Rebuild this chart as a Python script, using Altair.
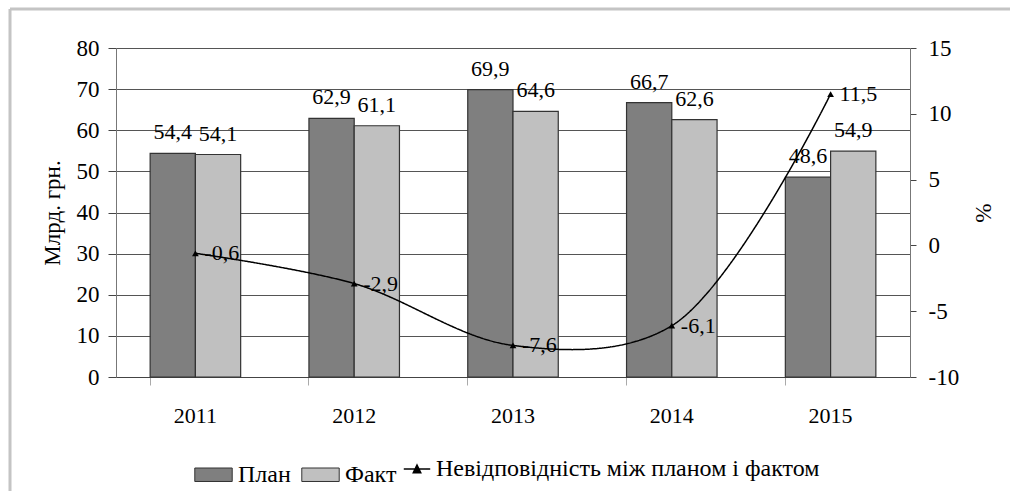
import altair as alt
import pandas as pd

years = ["2011", "2012", "2013", "2014", "2015"]
plan = [54.4, 62.9, 69.9, 66.7, 48.6]
fact = [54.1, 61.1, 64.6, 62.6, 54.9]
deviation = [-0.6, -2.9, -7.6, -6.1, 11.5]
series_names = ["План", "Факт"]
line_name = "Невідповідність між планом і фактом"
left_ticks = [0, 10, 20, 30, 40, 50, 60, 70, 80]
right_ticks = [-10, -5, 0, 5, 10, 15]

bars_df = pd.DataFrame({
    "year": years * 2,
    "series": [series_names[0]] * len(years) + [series_names[1]] * len(years),
    "value": plan + fact,
})
line_df = pd.DataFrame({"year": years, "dev": deviation, "name": [line_name] * len(years)})

FONT = "Liberation Serif"
W, H = 794, 329
NUM = "replace(replace(format({v}, '.1f'), '.', ','), '\u2212', '-')"

x_enc = alt.X(
    "year:N", title=None, sort=years,
    scale=alt.Scale(paddingInner=0.43, paddingOuter=0.215),
    axis=alt.Axis(labelAngle=0, bandPosition=0, tickSize=8, tickColor="#aaaaaa",
                  domainColor="#444444", labelPadding=20, labelFontSize=22,
                  labelFont=FONT, labelColor="black"),
)

y_left = alt.Y(
    "value:Q",
    scale=alt.Scale(domain=[0, 80], nice=False, zero=True),
    axis=alt.Axis(title="Млрд. грн.", values=left_ticks, grid=True, gridColor="#555555",
                  gridWidth=1, tickSize=8, tickColor="#444444", domainColor="#777777",
                  labelFont=FONT, labelFontSize=23, labelColor="black", labelPadding=9,
                  titleFont=FONT, titleFontSize=23, titleFontWeight="normal",
                  titleColor="black", titlePadding=12,
                  labelExpr="datum.value + ''"),
)

y_right = alt.Y(
    "dev:Q",
    scale=alt.Scale(domain=[-10, 15], nice=False, zero=False),
    axis=alt.Axis(title="%", orient="right", values=right_ticks, grid=False,
                  tickSize=6, tickColor="#444444", domainColor="#777777",
                  labelFont=FONT, labelFontSize=23, labelColor="black", labelPadding=12,
                  titleFont=FONT, titleFontSize=23, titleFontWeight="normal",
                  titleColor="black", titlePadding=12,
                  labelExpr="datum.value + ''"),
)

x_off = alt.XOffset("series:N", sort=series_names,
                    scale=alt.Scale(domain=series_names, paddingInner=0, paddingOuter=0))

bars = alt.Chart(bars_df).mark_bar(stroke="#333333", strokeWidth=1.2).encode(
    x=x_enc,
    xOffset=x_off,
    y=y_left,
    color=alt.Color(
        "series:N",
        scale=alt.Scale(domain=series_names, range=["#7f7f7f", "#c0c0c0"]),
        legend=alt.Legend(
            title=None, orient="none", legendX=78, legendY=407, direction="horizontal",
            symbolType="M-1,-0.36H1V0.36H-1Z", symbolSize=1400,
            symbolStrokeColor="#333333", symbolStrokeWidth=1,
            labelFont=FONT, labelFontSize=24, labelColor="black", labelLimit=0,
            labelOffset=5, columnPadding=8,
        ),
    ),
)

bar_text = alt.Chart(bars_df).transform_calculate(
    label=NUM.format(v="datum.value")
).mark_text(font=FONT, fontSize=22, baseline="alphabetic", dy=-14, color="black").encode(
    x=x_enc, xOffset=x_off, y=y_left, text="label:N"
)

bar_layer = alt.layer(bars, bar_text)

line = alt.Chart(line_df).mark_line(interpolate="catmull-rom", color="black", strokeWidth=1.5).encode(
    x=x_enc,
    y=y_right,
    strokeDash=alt.StrokeDash(
        "name:N",
        scale=alt.Scale(domain=[line_name], range=[[1, 0]]),
        legend=alt.Legend(
            title=None, orient="none", legendX=287, legendY=407,
            symbolType="M-1,0H1M-0.28,0.28L0,-0.3L0.28,0.28Z", symbolSize=700,
            symbolStrokeColor="black", symbolFillColor="black", symbolStrokeWidth=1.5,
            labelFont=FONT, labelFontSize=24, labelColor="black", labelOffset=5,
            labelLimit=0,
        ),
    ),
)

points = alt.Chart(line_df).mark_point(shape="triangle-up", filled=True, color="black",
                                       size=45, opacity=1).encode(x=x_enc, y=y_right)

line_text = alt.Chart(line_df).transform_calculate(
    label=NUM.format(v="datum.dev")
).mark_text(font=FONT, fontSize=22, align="left", baseline="middle", dx=9, color="black").encode(
    x=x_enc, y=y_right, text="label:N"
)

line_layer = alt.layer(line, points, line_text)

border_top = alt.Chart().mark_rule(color="#c4c4c4", strokeWidth=3).encode(
    x=alt.value(-106), x2=alt.value(900), y=alt.value(-39)
)
border_left = alt.Chart().mark_rule(color="#c4c4c4", strokeWidth=3).encode(
    x=alt.value(-106), y=alt.value(-39), y2=alt.value(450)
)

chart = alt.layer(bar_layer, line_layer, border_top, border_left).resolve_scale(
    y="independent", color="independent", strokeDash="independent"
).properties(
    width=W, height=H,
    autosize=alt.AutoSizeParams(type="none"),
    padding={"left": 116, "top": 48, "right": 100, "bottom": 114},
).configure_view(stroke=None).configure(background="white", font=FONT)

chart.save("out.html", embed_options={"renderer": "svg", "actions": False})
